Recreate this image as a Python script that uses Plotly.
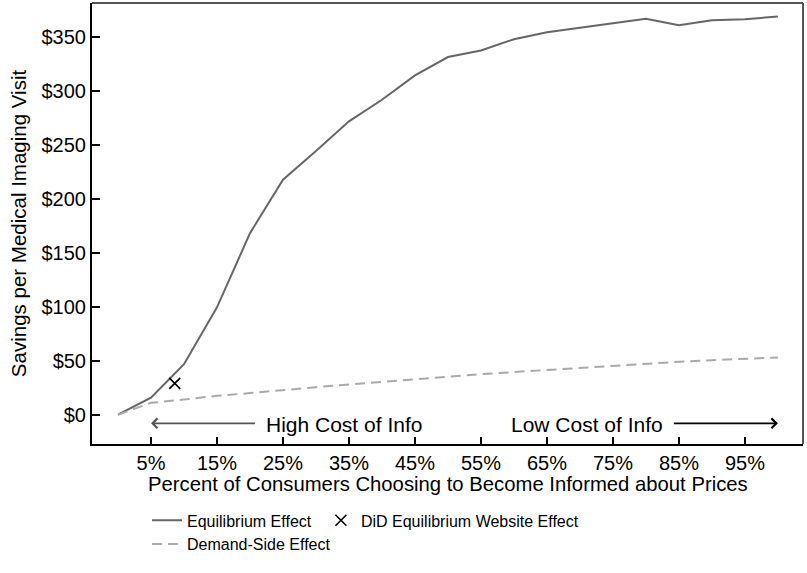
import plotly.graph_objects as go

# ---- data ----
pct = [0, 5, 10, 15, 20, 25, 30, 35, 40, 45, 50, 55, 60, 65, 70, 75, 80, 85, 90, 95, 100]
equilibrium = [0, 15.7, 46.7, 99.4, 168, 217.5, 244, 271.5, 291.5, 314, 331, 337, 347.5, 354, 358, 362, 366.5, 360.5, 365, 366, 368.5]
demand_side = [0, 11, 14, 17.5, 20, 23, 25.5, 28, 30.5, 33, 35, 37.5, 39.5, 41.5, 43.5, 45.5, 47, 49, 50.5, 52, 53]
did_x = [8.6]
did_y = [29]
xtick_vals = [5, 15, 25, 35, 45, 55, 65, 75, 85, 95]
xtick_text = [f"{v}%" for v in xtick_vals]
ytick_vals = [0, 50, 100, 150, 200, 250, 300, 350]
ytick_text = [f"${v}" for v in ytick_vals]

FONT = "Liberation Sans"

fig = go.Figure()
fig.add_trace(go.Scatter(x=pct, y=equilibrium, mode="lines", name="Equilibrium Effect",
                         line=dict(color="#666666", width=2), legend="legend"))
fig.add_trace(go.Scatter(x=pct, y=demand_side, mode="lines", name="Demand-Side Effect",
                         line=dict(color="#aaaaaa", width=2, dash="10px,6px"), legend="legend"))
fig.add_trace(go.Scatter(x=did_x, y=did_y, mode="markers", name="DiD Equilibrium Website Effect",
                         marker=dict(symbol="x-thin", size=11, color="black",
                                     line=dict(color="black", width=1.6)), legend="legend2"))

# arrows
fig.add_annotation(x=5, y=-8, ax=21, ay=-8, xref="x", yref="y", axref="x", ayref="y",
                   text="", showarrow=True, arrowhead=4, arrowsize=1.2, arrowwidth=1.6,
                   arrowcolor="#555555")
fig.add_annotation(x=100, y=-8, ax=84, ay=-8, xref="x", yref="y", axref="x", ayref="y",
                   text="", showarrow=True, arrowhead=4, arrowsize=1.2, arrowwidth=1.6,
                   arrowcolor="black")
fig.add_annotation(x=34.3, y=-9, xref="x", yref="y", text="High Cost of Info", showarrow=False,
                   font=dict(family=FONT, size=21, color="black"))
fig.add_annotation(x=71, y=-9, xref="x", yref="y", text="Low Cost of Info", showarrow=False,
                   font=dict(family=FONT, size=21, color="black"))

# x-axis title placed as annotation (tight to tick labels as in reference)
fig.add_annotation(x=0.5, y=-40 / 441, xref="paper", yref="paper", xanchor="center", yanchor="middle",
                   text="Percent of Consumers Choosing to Become Informed about Prices",
                   showarrow=False, font=dict(family=FONT, size=20.3, color="black"))

# top/right frame
fig.add_shape(type="line", xref="paper", yref="paper", x0=0, x1=1, y0=1, y1=1,
              line=dict(color="#555555", width=2))
fig.add_shape(type="line", xref="paper", yref="paper", x0=1, x1=1, y0=0, y1=1,
              line=dict(color="#555555", width=2))

fig.update_layout(
    width=807, height=573,
    margin=dict(l=92, r=4, t=3, b=129),
    plot_bgcolor="white", paper_bgcolor="white",
    font=dict(family=FONT, size=20, color="black"),
    xaxis=dict(range=[-3.94, 103.8], tickvals=xtick_vals, ticktext=xtick_text,
               ticks="inside", ticklen=7, tickwidth=1.5, tickcolor="black",
               showline=True, linecolor="black", linewidth=2, showgrid=False, zeroline=False,
               ticklabelstandoff=0, automargin=False, tickfont=dict(size=20)),
    yaxis=dict(range=[-27.1, 381], tickvals=ytick_vals, ticktext=ytick_text,
               ticks="inside", ticklen=8, tickwidth=1.5, tickcolor="black",
               showline=True, linecolor="black", linewidth=2, showgrid=False, zeroline=False,
               ticklabelstandoff=0, automargin=False, tickfont=dict(size=20),
               title=dict(text="Savings per Medical Imaging Visit", font=dict(size=20.5), standoff=9)),
    legend=dict(x=0.0774, y=-0.1347, xanchor="left", yanchor="top", orientation="v",
                font=dict(family=FONT, size=16), bgcolor="rgba(0,0,0,0)", tracegroupgap=0),
    legend2=dict(x=0.322, y=-0.1347, xanchor="left", yanchor="top", orientation="v",
                 font=dict(family=FONT, size=16), bgcolor="rgba(0,0,0,0)"),
    showlegend=True,
)

fig.write_html("out.html", config={"displayModeBar": False},
               post_script="document.body.style.margin='0px';")
